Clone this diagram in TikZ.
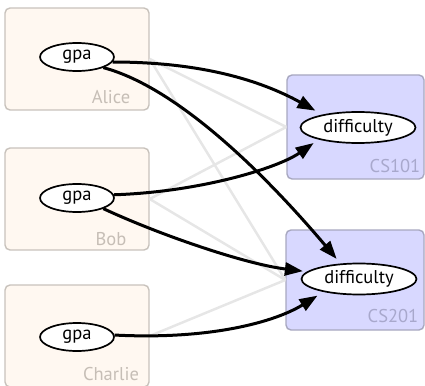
\documentclass[tikz,border=0pt]{standalone}
\usepackage{fontspec}
\setmainfont{PT Sans}
\usetikzlibrary{shapes.geometric,arrows.meta}
\definecolor{stufill}{RGB}{255,248,241}
\definecolor{studraw}{RGB}{200,194,188}
\definecolor{stutext}{RGB}{198,190,182}
\definecolor{crsfill}{RGB}{216,216,255}
\definecolor{crsdraw}{RGB}{168,168,192}
\definecolor{crstext}{RGB}{168,168,204}
\definecolor{linkgrey}{RGB}{230,230,230}
\begin{document}
\begin{tikzpicture}[x=1pt,y=-1pt,
  font=\fontsize{18.5}{22}\selectfont,
  student/.style={draw=studraw, fill=stufill, line width=1.4pt, rounded corners=5pt, inner sep=0pt},
  course/.style={draw=crsdraw, fill=crsfill, line width=1.4pt, rounded corners=5pt, inner sep=0pt},
  stulabel/.style={text=stutext, anchor=base, inner sep=0pt},
  crslabel/.style={text=crstext, anchor=base, inner sep=0pt},
  var/.style={ellipse, draw, fill=white, line width=1.7pt, inner sep=0pt},
  gpavar/.style={var, minimum width=74pt, minimum height=28pt},
  diffvar/.style={var, minimum width=115pt, minimum height=31pt},
  link/.style={draw=linkgrey, line width=2.5pt},
  dep/.style={draw=black, line width=3pt, -{Triangle[length=18pt,width=13pt]}}
]
\clip (0,0) rectangle (425,385);

% plates for students and courses
\node[student, minimum width=144pt, minimum height=102pt] (alice) at (77,59) {};
\node[student, minimum width=144pt, minimum height=102pt] (bob) at (77,199) {};
\node[student, minimum width=144pt, minimum height=102pt] (charlie) at (77,336) {};
\node[course, minimum width=137pt, minimum height=104pt] (cs101) at (355.5,127) {};
\node[course, minimum width=138pt, minimum height=100pt] (cs201) at (355,280) {};

% faint links between plates
\draw[link] (alice.east) -- (cs101.west);
\draw[link] (alice.east) -- (cs201.west);
\draw[link] (bob.east) -- (cs101.west);
\draw[link] (bob.east) -- (cs201.west);
\draw[link] (charlie.east) -- (cs201.west);

% plate captions
\node[stulabel] (alicelbl) at (111,103) {Alice};
\node[stulabel] (boblbl) at (111,245) {Bob};
\node[stulabel] (charlielbl) at (111,380) {Charlie};
\node[crslabel] (cs101lbl) at (395,172) {CS101};
\node[crslabel] (cs201lbl) at (393,322) {CS201};

% variables
\node[gpavar] (ga) at (77,57) {gpa};
\node[gpavar] (gb) at (77,198) {gpa};
\node[gpavar] (gc) at (77,337) {gpa};
\node[diffvar] (d1) at (358,127.5) {difficulty};
\node[diffvar] (d2) at (359,279) {difficulty};

% dependencies
\draw[dep, shorten >=8pt] (ga.-8) .. controls (200,62) and (260,80) .. (d1.160);
\draw[dep, shorten >=6pt] (ga.-22) .. controls (180,88) and (270,180) .. (d2.140);
\draw[dep, shorten >=6pt] (gb.5) .. controls (200,192) and (278,168) .. (d1.197);
\draw[dep, shorten >=4pt] (gb.-22) .. controls (160,235) and (245,264) .. (d2.172);
\draw[dep, shorten >=7pt] (gc.3) .. controls (210,340) and (275,322) .. (d2.200);
\end{tikzpicture}
\end{document}
